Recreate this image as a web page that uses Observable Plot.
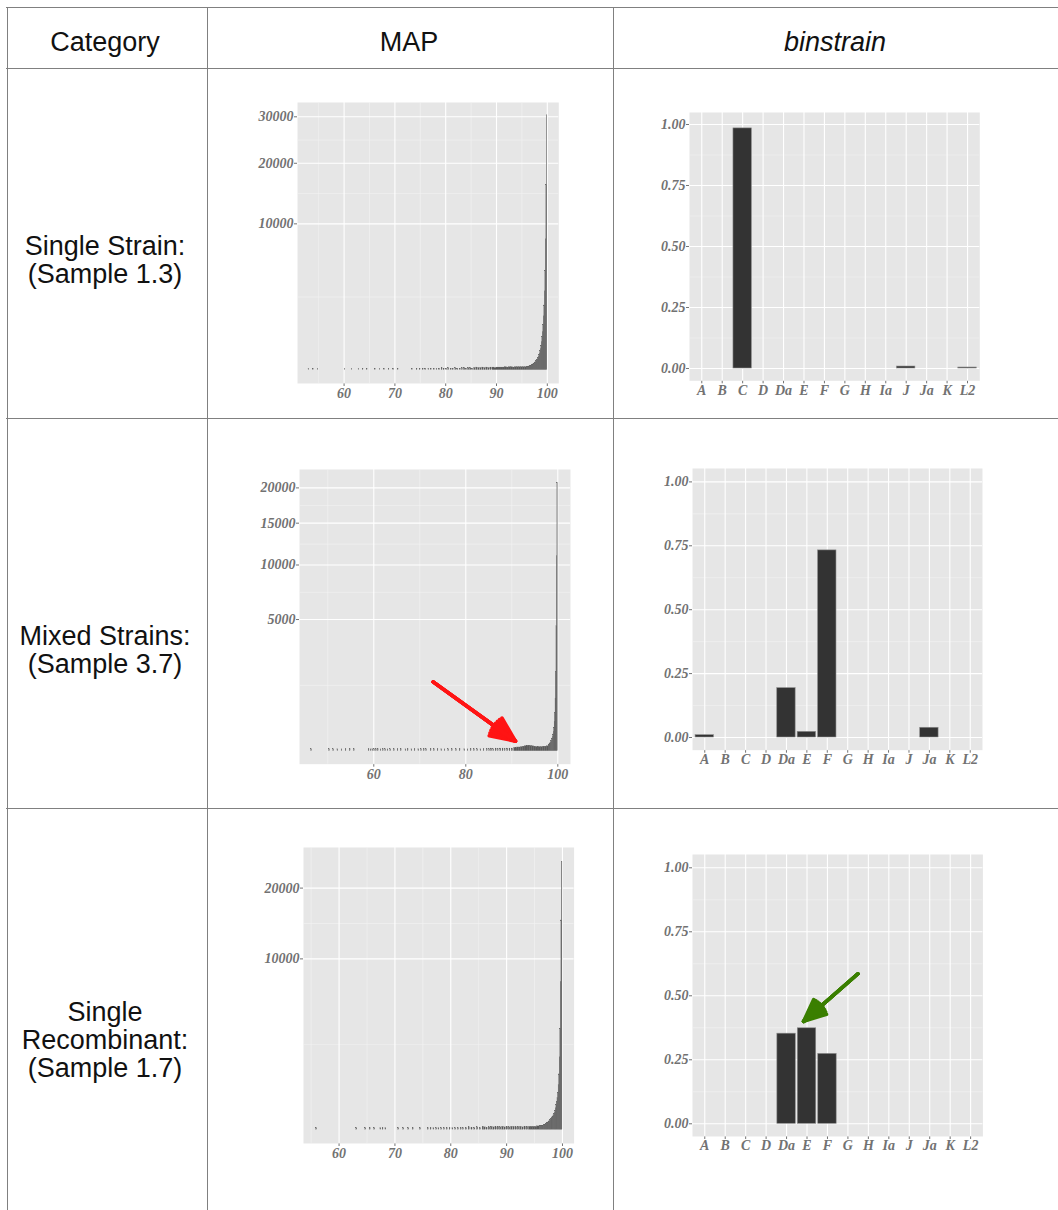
<!DOCTYPE html>
<html><head><meta charset="utf-8">
<script src="https://cdn.jsdelivr.net/npm/d3@7"></script>
<script src="https://cdn.jsdelivr.net/npm/@observablehq/plot@0.6"></script>
<style>
body{margin:0;background:#fff;}
#page{position:relative;width:1058px;height:1210px;overflow:hidden;font-family:"Liberation Sans",Arial,sans-serif;background:#fff;}
.hl{position:absolute;height:0;border-top:1px solid #808080;}
.vl{position:absolute;width:0;border-left:1px solid #808080;}
.txt{position:absolute;transform:translate(-50%,-50%);font-size:27px;line-height:27px;color:#111;white-space:nowrap;text-align:center;}
.panel{position:absolute;}
</style></head>
<body><div id="page"></div>
<script>
// ---------------- DATA ----------------
const columnTitles = ["Category", "MAP", "binstrain"];
const rowLabels = [["Single Strain:", "(Sample 1.3)"], ["Mixed Strains:", "(Sample 3.7)"], ["Single", "Recombinant:", "(Sample 1.7)"]];

const strains = ["A","B","C","D","Da","E","F","G","H","Ia","J","Ja","K","L2"];
const bin1 = [0,0,0.984,0,0,0,0,0,0,0,0.008,0,0,0.004];
const bin2 = [0.009,0,0,0,0.193,0.022,0.732,0,0,0,0,0.038,0,0];
const bin3 = [0,0,0,0,0.352,0.373,0.273,0,0,0,0,0,0,0];
const binTicks = [0, 0.25, 0.5, 0.75, 1];
const binMinor = [0.125, 0.375, 0.625, 0.875];

// MAP histograms: fine bins (width 0.1) next to 100, plus sparse/low bins [lo, hi, count]
const peakBinWidth = 0.1;
const map1PeakStart = 96.0;
const map1Peak = [4,4,5,5,6,6,7,8,9,10,11,13,15,17,20,23,27,31,36,42,49,58,70,85,105,130,165,210,280,370,500,680,950,1350,1950,2900,4600,8000,16000,30400];
const map1Tail = [
 [53.0,53.12,1],[53.9,54.02,1],[54.8,54.92,1],[60.1,60.22,1],[61.5,61.62,1],[62.85,62.97,1],[63.7,63.82,1],[64.5,64.62,1],
 [66.1,66.22,1],[67.0,67.12,1],[67.9,68.02,1],[68.8,68.92,1],[69.7,69.82,1],[70.6,70.72,1],[73.4,73.52,1],
 [74.3,74.45,1],[74.9,75.05,1],[75.5,75.65,1],[76.0,76.15,1],[76.6,76.75,1],[77.1,77.25,1],[77.7,77.85,1],[78.2,78.35,1],
 [78.7,78.88,1],[79.2,79.38,2],[79.6,79.78,1],[80.1,80.28,1],[80.5,80.68,2],[81.0,81.18,1],[81.4,81.58,1],[81.9,82.08,2],
 [82.3,82.48,1],[82.8,82.98,1],[83.2,83.38,2],
 [83.6,83.85,2],[84.0,84.2,1],[84.4,84.65,2],[84.8,85.05,2],[85.2,85.4,1],[85.6,85.85,2],[86.0,86.25,3],[86.4,86.65,2],
 [86.8,87.05,2],[87.2,87.45,3],[87.6,87.85,2],[88.0,88.25,3],[88.4,88.65,2],[88.8,89.05,3],
 [89.2,89.6,3],[89.6,90.0,2],[90.0,90.4,3],[90.4,90.8,3],[90.8,91.2,3],[91.2,91.6,3],[91.6,92.0,4],[92.0,92.4,3],
 [92.4,92.8,4],[92.8,93.2,4],[93.2,93.6,3],[93.6,94.0,4],[94.0,94.4,4],[94.4,94.8,4],[94.8,95.2,4],[95.2,95.6,4],[95.6,96.0,4]
];
const map1XTicks = [60,70,80,90,100];
const map1XMinor = [55,65,75,85,95];
const map1YTicks = [10000,20000,30000];

const map2PeakStart = 98.0;
const map2Peak = [10,12,14,17,20,24,29,36,46,60,80,110,160,250,420,800,1800,4500,11000,20800];
const map2Tail = [
 [46.4,46.55,1],[50.3,50.45,1],[51.2,51.35,1],[52.1,52.25,1],[53.0,53.15,1],[53.9,54.05,1],[54.8,54.95,1],[55.7,55.85,1],
 [58.9,59.05,1],[59.3,59.45,1],[59.7,59.85,1],[60.1,60.25,1],[60.5,60.65,1],
 [60.9,61.05,1],[61.5,61.65,1],[62.0,62.15,1],[62.5,62.65,1],[63.0,63.15,1],[63.6,63.75,1],[64.4,64.55,1],[65.2,65.35,1],[65.9,66.05,1],
 [66.9,67.05,1],[67.4,67.55,1],[68.2,68.35,1],[68.9,69.05,1],[69.7,69.85,1],[70.3,70.45,1],[70.9,71.05,1],[71.4,71.55,1],
 [72.4,72.55,1],[73.1,73.25,1],[73.9,74.05,1],[74.7,74.85,1],[75.4,75.55,1],
 [76.2,76.35,1],[77.0,77.15,1],[77.9,78.05,1],[78.7,78.85,1],
 [79.7,79.85,1],[80.4,80.55,1],[81.1,81.25,1],[81.8,81.95,1],[82.5,82.65,1],[83.2,83.35,1],[83.9,84.05,1],[84.6,84.75,1],[85.1,85.25,1],
 [85.5,85.7,2],[86.0,86.15,1],[86.5,86.7,2],[87.0,87.15,1],[87.5,87.7,2],[88.0,88.2,2],[88.5,88.65,1],[89.0,89.2,2],[89.5,89.7,2],
 [90.0,90.25,2],[90.5,90.8,3],
 [90.8,91.2,3],[91.2,91.6,4],[91.6,92.0,4],[92.0,92.4,5],[92.4,92.8,6],[92.8,93.2,7],[93.2,93.6,8],[93.6,94.0,9],[94.0,94.4,8],
 [94.4,94.8,7],[94.8,95.2,6],[95.2,95.6,5],[95.6,96.0,5],[96.0,96.4,5],[96.4,96.8,5],[96.8,97.2,6],[97.2,97.6,6],[97.6,98.0,7]
];
const map2XTicks = [60,80,100];
const map2XMinor = [50,70,90];
const map2YTicks = [5000,10000,15000,20000];

const map3PeakStart = 96.0;
const map3Peak = [4,4,4,5,5,6,6,7,8,9,10,12,14,16,18,21,24,27,31,35,40,46,53,61,71,84,100,125,160,205,265,345,470,690,1050,1800,3500,7500,15000,24500];
const map3Tail = [
 [55.9,56.05,1],[63.1,63.25,1],[64.7,64.85,1],[65.5,65.65,1],[66.3,66.45,1],[67.4,67.55,1],[67.8,67.95,1],[68.3,68.45,1],
 [70.6,70.75,1],[71.5,71.65,1],[72.4,72.55,1],[73.2,73.35,1],[74.5,74.65,1],
 [75.9,76.05,1],[76.4,76.55,1],[76.9,77.05,1],[77.4,77.55,1],
 [77.8,77.95,1],[78.3,78.45,1],[78.8,78.95,1],[79.3,79.45,1],[79.8,79.95,1],[80.3,80.45,1],[80.8,80.95,1],[81.3,81.45,1],[81.8,81.95,1],[82.2,82.35,1],
 [82.7,82.9,1],[83.2,83.4,2],[83.7,83.9,1],[84.2,84.4,1],[84.7,84.9,2],[85.2,85.4,1],[85.7,85.9,2],
 [86.0,86.25,2],[86.4,86.6,1],[86.8,87.05,2],[87.2,87.45,3],[87.6,87.85,2],[88.0,88.25,2],[88.4,88.65,3],[88.8,89.05,2],[89.2,89.45,3],
 [89.6,89.85,2],[90.0,90.25,3],[90.4,90.65,2],[90.8,91.05,3],[91.2,91.45,3],[91.6,91.85,2],[92.0,92.25,3],[92.4,92.65,3],[92.8,93.05,2],
 [93.2,93.45,3],[93.6,93.85,3],[94.0,94.3,3],
 [94.3,94.7,3],[94.7,95.1,3],[95.1,95.5,3],[95.5,96.0,4]
];
const map3XTicks = [60,70,80,90,100];
const map3XMinor = [55,65,75,85,95];
const map3YTicks = [10000,20000];

// annotation arrows (data coordinates)
const redArrow = [{x1: 72.9, y1: 1385, x2: 90.8, y2: 29}];
const greenArrow = [{x1: 7.49, y1: 0.586, x2: 4.83, y2: 0.400}];

// ---------------- LAYOUT ----------------
const page = document.getElementById("page");
function el(cls, css, text) {
  const d = document.createElement("div");
  d.className = cls;
  Object.assign(d.style, css);
  if (text != null) d.textContent = text;
  page.appendChild(d);
  return d;
}
// table grid
[7, 68, 418, 808].forEach(y => el("hl", {left: "6px", top: y + "px", width: "1052px"}));
[7, 207, 613].forEach(x => el("vl", {left: x + "px", top: "7px", height: "1203px"}));
// header
el("txt", {left: "105px", top: "42px"}, columnTitles[0]);
el("txt", {left: "409px", top: "42px"}, columnTitles[1]);
el("txt", {left: "835px", top: "42px", fontStyle: "italic"}, columnTitles[2]);
// row labels
const rowCenters = [[246, 274], [636, 664], [1012, 1040, 1068]];
rowLabels.forEach((lines, r) => lines.forEach((t, k) => el("txt", {left: "105px", top: rowCenters[r][k] + "px"}, t)));

// ---------------- PLOTS ----------------
const BG = "#e6e6e6";
const AXIS_STYLE = {fontFamily: "'Liberation Serif', 'Times New Roman', serif", fontWeight: "bold", fontStyle: "italic",
  fontSize: "14px", color: "#727272", background: "transparent", overflow: "visible"};

function arrowMarks(data, color) {
  return [48, 36, 24, 12, 2].map(a => Plot.arrow(data, {x1: "x1", y1: "y1", x2: "x2", y2: "y2",
    stroke: color, strokeWidth: 3.5, headAngle: a, headLength: 11.5}));
}

function place(svg, left, top) {
  const wrap = document.createElement("div");
  wrap.className = "panel";
  wrap.style.left = left + "px";
  wrap.style.top = top + "px";
  wrap.appendChild(svg);
  page.appendChild(wrap);
}

function sqrtMid(a, b) { const m = (Math.sqrt(a) + Math.sqrt(b)) / 2; return m * m; }

function mapPanel(o) {
  const ML = 62, MR = 2, MT = 2, MB = 28;
  const W = o.R - o.L, H = o.B - o.T;
  const bins = o.tail.map(([x1, x2, n]) => ({x1, x2, n}))
    .concat(o.peak.map((n, i) => ({x1: o.peakStart + i * peakBinWidth, x2: o.peakStart + (i + 1) * peakBinWidth, n})));
  const yt = [0, ...o.yTicks];
  const yMinor = yt.slice(1).map((v, i) => sqrtMid(yt[i], v));
  const svg = Plot.plot({
    width: W + ML + MR, height: H + MT + MB,
    marginLeft: ML, marginRight: MR, marginTop: MT, marginBottom: MB,
    style: AXIS_STYLE,
    x: {domain: o.xDomain, ticks: o.xTicks, tickSize: 3, tickPadding: 2, tickFormat: d => String(d), label: null},
    y: {type: "sqrt", domain: [0, o.yMax], insetTop: o.insetTop, insetBottom: o.insetBottom,
        ticks: o.yTicks, tickSize: 3, tickPadding: 1, tickFormat: d => String(d), label: null},
    marks: [
      Plot.frame({fill: BG, stroke: "none"}),
      Plot.ruleX(o.xMinor, {stroke: "#f3f3f3", strokeWidth: 0.6}),
      Plot.ruleY(yMinor, {stroke: "#f3f3f3", strokeWidth: 0.6}),
      Plot.ruleX(o.xTicks, {stroke: "#ffffff", strokeWidth: 1.1}),
      Plot.ruleY(o.yTicks, {stroke: "#ffffff", strokeWidth: 1.1}),
      Plot.rect(bins, {x1: "x1", x2: "x2", y1: () => 0, y2: "n", fill: "#595959", stroke: "#595959", strokeWidth: 0.2}),
      ...(o.arrows ? arrowMarks(o.arrows, "#ff1414") : [])
    ]
  });
  place(svg, o.L - ML, o.T - MT);
}

function binPanel(o) {
  const ML = 50, MR = 2, MT = 2, MB = 26;
  const W = o.R - o.L, H = o.B - o.T;
  const idx = strains.map((s, i) => i);
  const bars = strains.map((s, i) => ({i, v: o.values[i]})).filter(d => d.v > 0);
  const svg = Plot.plot({
    width: W + ML + MR, height: H + MT + MB,
    marginLeft: ML, marginRight: MR, marginTop: MT, marginBottom: MB,
    style: AXIS_STYLE,
    x: {domain: [-0.6, strains.length - 0.4], ticks: idx, tickFormat: i => strains[i], tickSize: 3, tickPadding: 1, label: null},
    y: {domain: [0, 1], insetTop: o.insetTop, insetBottom: o.insetBottom, ticks: binTicks,
        tickFormat: d3.format(".2f"), tickSize: 3, tickPadding: 1, label: null},
    marks: [
      Plot.frame({fill: BG, stroke: "none"}),
      Plot.ruleY(binMinor, {stroke: "#f3f3f3", strokeWidth: 0.6}),
      Plot.ruleY(binTicks, {stroke: "#ffffff", strokeWidth: 1.1}),
      Plot.ruleX(idx, {stroke: "#ffffff", strokeWidth: 1.1}),
      Plot.rect(bars, {x1: d => d.i - 0.45, x2: d => d.i + 0.45, y1: () => 0, y2: "v",
        fill: "#333333", stroke: "#8a8a8a", strokeWidth: 0.6}),
      ...(o.arrows ? arrowMarks(o.arrows, "#3a7f00") : [])
    ]
  });
  place(svg, o.L - ML, o.T - MT);
}

mapPanel({L: 296.7, R: 558, T: 101.7, B: 382.7, xDomain: [50.83, 102.26], xTicks: map1XTicks, xMinor: map1XMinor,
  yMax: 30000, yTicks: map1YTicks, insetTop: 14.3, insetBottom: 13.4, peakStart: map1PeakStart, peak: map1Peak, tail: map1Tail});
mapPanel({L: 299, R: 570, T: 469.3, B: 764, xDomain: [43.85, 102.76], xTicks: map2XTicks, xMinor: map2XMinor,
  yMax: 20000, yTicks: map2YTicks, insetTop: 18.4, insetBottom: 13, peakStart: map2PeakStart, peak: map2Peak, tail: map2Tail,
  arrows: redArrow});
mapPanel({L: 302.7, R: 573.3, T: 846.7, B: 1142.7, xDomain: [53.63, 102.08], xTicks: map3XTicks, xMinor: map3XMinor,
  yMax: 20000, yTicks: map3YTicks, insetTop: 40.6, insetBottom: 13.7, peakStart: map3PeakStart, peak: map3Peak, tail: map3Tail});

binPanel({L: 689, R: 979.3, T: 111.7, B: 380, values: bin1, insetTop: 12, insetBottom: 12.3});
binPanel({L: 691.7, R: 981.7, T: 468.3, B: 750, values: bin2, insetTop: 13.4, insetBottom: 12.7});
binPanel({L: 692.3, R: 982.7, T: 854, B: 1136, values: bin3, insetTop: 13.3, insetBottom: 12.7, arrows: greenArrow});
</script>
</body></html>
